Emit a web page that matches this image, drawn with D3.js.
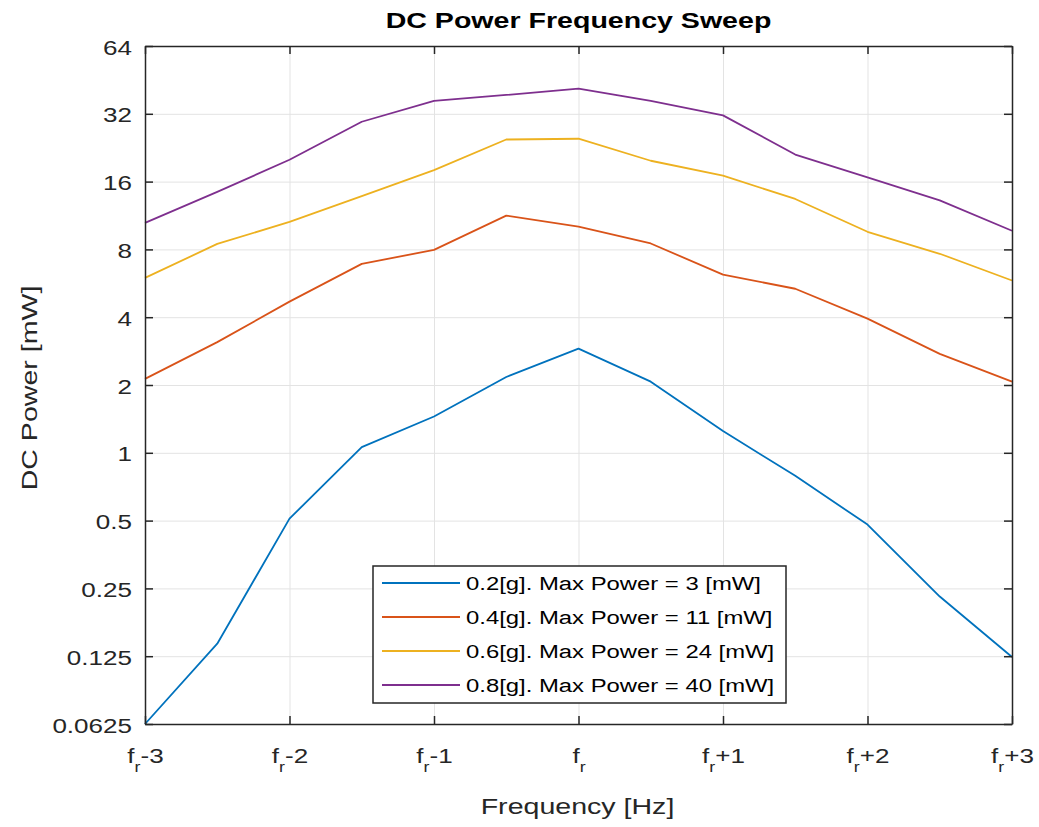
<!DOCTYPE html>
<html>
<head>
<meta charset="utf-8">
<script src="https://cdn.jsdelivr.net/npm/d3@7"></script>
<style>
  body { margin: 0; background: #fff; }
  svg { display: block; font-family: "Liberation Sans", Arial, sans-serif; }
  .grid line { stroke: #e3e3e3; stroke-width: 1; }
  .grid .domain { display: none; }
  .frame path.domain, .frame line { stroke: #262626; stroke-width: 1.5; }
</style>
</head>
<body>
<svg width="1039" height="827"></svg>
<script>

// frequency offsets from resonance, in Hz
const freq = [-3, -2.5, -2, -1.5, -1, -0.5, 0, 0.5, 1, 1.5, 2, 2.5, 3];

const power02 = [0.0625, 0.142, 0.51, 1.06, 1.45, 2.17, 2.9, 2.07, 1.25, 0.79, 0.48, 0.23, 0.124];
const power04 = [2.13, 3.1, 4.69, 6.9, 7.96, 11.3, 10.1, 8.5, 6.18, 5.35, 3.94, 2.75, 2.07];
const power06 = [5.98, 8.46, 10.6, 13.8, 18.0, 24.6, 24.8, 19.8, 17.0, 13.4, 9.58, 7.65, 5.82];
const power08 = [10.5, 14.4, 20.0, 29.5, 36.5, 38.8, 41.4, 36.5, 31.5, 21.1, 16.7, 13.2, 9.68];

const seriesNames = [
  '0.2[g]. Max Power = 3 [mW]',
  '0.4[g]. Max Power = 11 [mW]',
  '0.6[g]. Max Power = 24 [mW]',
  '0.8[g]. Max Power = 40 [mW]'
];
const seriesColors = ['#0072BD', '#D95319', '#EDB120', '#7E2F8E'];

const xTicks = [-3, -2, -1, 0, 1, 2, 3];
const xTickSuffix = ['-3', '-2', '-1', '', '+1', '+2', '+3'];
const yTicks = [0.0625, 0.125, 0.25, 0.5, 1, 2, 4, 8, 16, 32, 64];
const yTickLabels = ['0.0625', '0.125', '0.25', '0.5', '1', '2', '4', '8', '16', '32', '64'];

// the reference text is drawn wider than Arial, stretch it
const SX = 1.27;

const svg = d3.select('svg');
const margin = { left: 145, right: 27, top: 46, bottom: 103 };
const width = 1039 - margin.left - margin.right;
const height = 827 - margin.top - margin.bottom;

const x = d3.scaleLinear().domain([-3, 3]).range([0, width]);
const y = d3.scaleLog().base(2).domain([0.0625, 64]).range([height, 0]);

const g = svg.append('g').attr('transform', `translate(${margin.left},${margin.top})`);

// grid
g.append('g').attr('class', 'grid')
  .call(d3.axisBottom(x).tickValues(xTicks).tickSize(height).tickFormat(''));
g.append('g').attr('class', 'grid')
  .call(d3.axisLeft(y).tickValues(yTicks).tickSize(-width).tickFormat(''));

// data lines
const data = [power02, power04, power06, power08].map((vals, i) => ({
  name: seriesNames[i],
  color: seriesColors[i],
  values: vals.map((v, j) => ({ f: freq[j], p: v }))
}));

const line = d3.line()
  .x(d => x(d.f))
  .y(d => y(d.p));

g.selectAll('.series')
  .data(data)
  .enter()
    .append('path')
    .attr('class', 'series')
    .attr('fill', 'none')
    .attr('stroke', d => d.color)
    .attr('stroke-width', 1.8)
    .attr('stroke-linejoin', 'round')
    .attr('d', d => line(d.values));

// frame: ticks inside on all four sides
const left = g.append('g').attr('class', 'frame')
  .call(d3.axisLeft(y).tickValues(yTicks).tickSizeInner(-8).tickSizeOuter(0)
    .tickFormat((d, i) => yTickLabels[i]));
left.selectAll('text')
  .attr('x', 0)
  .attr('dy', null)
  .attr('transform', `translate(-13,8) scale(${SX},1)`)
  .attr('fill', '#262626')
  .style('font-size', '20.5px');

const bottom = g.append('g').attr('class', 'frame')
  .attr('transform', `translate(0,${height})`)
  .call(d3.axisBottom(x).tickValues(xTicks).tickSizeInner(-8).tickSizeOuter(0).tickFormat(''));
bottom.selectAll('.tick text').remove();
bottom.selectAll('.tick').each(function (d, i) {
  const t = d3.select(this).append('text')
    .attr('text-anchor', 'middle')
    .attr('fill', '#262626')
    .attr('transform', `translate(0,39) scale(${SX},1)`)
    .style('font-size', '20.5px');
  t.append('tspan').text('f');
  t.append('tspan').attr('dy', 9).style('font-size', '14px').text('r');
  t.append('tspan').attr('dy', -9).text(xTickSuffix[i]);
});

g.append('g').attr('class', 'frame')
  .call(d3.axisTop(x).tickValues(xTicks).tickSizeInner(-8).tickSizeOuter(0).tickFormat(''));
g.append('g').attr('class', 'frame')
  .attr('transform', `translate(${width},0)`)
  .call(d3.axisRight(y).tickValues(yTicks).tickSizeInner(-8).tickSizeOuter(0).tickFormat(''));

// labels
svg.append('text')
  .attr('text-anchor', 'middle')
  .attr('transform', `translate(${margin.left + width / 2},28) scale(${SX},1)`)
  .attr('fill', '#000')
  .style('font-size', '22.5px')
  .style('font-weight', 'bold')
  .text('DC Power Frequency Sweep');

svg.append('text')
  .attr('text-anchor', 'middle')
  .attr('transform', `translate(${margin.left + width / 2 - 1},814) scale(${SX},1)`)
  .attr('fill', '#262626')
  .style('font-size', '22.5px')
  .text('Frequency [Hz]');

svg.append('text')
  .attr('text-anchor', 'middle')
  .attr('transform', `translate(37,388) rotate(-90) scale(${SX},1)`)
  .attr('fill', '#262626')
  .style('font-size', '22.5px')
  .text('DC Power [mW]');

// legend
const legend = svg.append('g').attr('transform', 'translate(373,566)');
legend.append('rect')
  .attr('width', 413)
  .attr('height', 137)
  .attr('fill', '#fff')
  .attr('stroke', '#262626')
  .attr('stroke-width', 1.5);

const rows = legend.selectAll('.row')
  .data(data)
  .enter()
    .append('g')
    .attr('class', 'row')
    .attr('transform', (d, i) => `translate(0,${17 + i * 34})`);

rows.append('line')
  .attr('x1', 9).attr('x2', 87)
  .attr('stroke', d => d.color)
  .attr('stroke-width', 1.8);

rows.append('text')
  .attr('transform', `translate(93,7) scale(${SX},1)`)
  .attr('fill', '#000')
  .style('font-size', '18.8px')
  .text(d => d.name);

</script>
</body>
</html>
